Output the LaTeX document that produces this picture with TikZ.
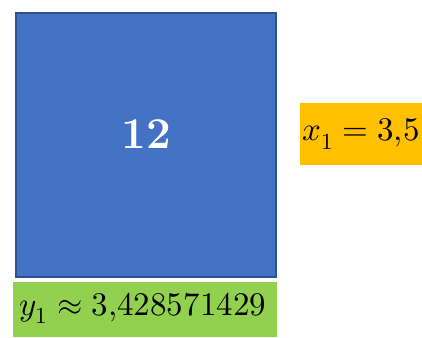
\documentclass[tikz,border=0pt]{standalone}
\usepackage{unicode-math}
\definecolor{blueFill}{HTML}{4472C4}
\definecolor{blueEdge}{HTML}{2F528F}
\definecolor{orangeFill}{HTML}{FFC000}
\definecolor{greenFill}{HTML}{92D050}
\begin{document}
\begin{tikzpicture}[x=1pt,y=-1pt,
  squarebox/.style={fill=blueFill,draw=blueEdge,line width=2pt},
  labelbox/.style={draw=none,inner sep=0pt},
  bigtext/.style={font=\fontsize{44}{50}\selectfont\bfseries,text=white},
  valtext/.style={font=\fontsize{33}{38}\selectfont}]
\useasboundingbox (0,0) rectangle (422,337);
\path[squarebox] (16,13) rectangle (276,277);
\node[bigtext] (num) at (146,134) {12};
\fill[orangeFill] (300,103) rectangle (422,165);
\node[valtext] (xval) at (361,134) {$x_1 = 3{,}5$};
\fill[greenFill] (13,282) rectangle (277,337);
\node[valtext] (yval) at (143,308) {$y_1 \approx 3{,}428571429$};
\end{tikzpicture}
\end{document}
